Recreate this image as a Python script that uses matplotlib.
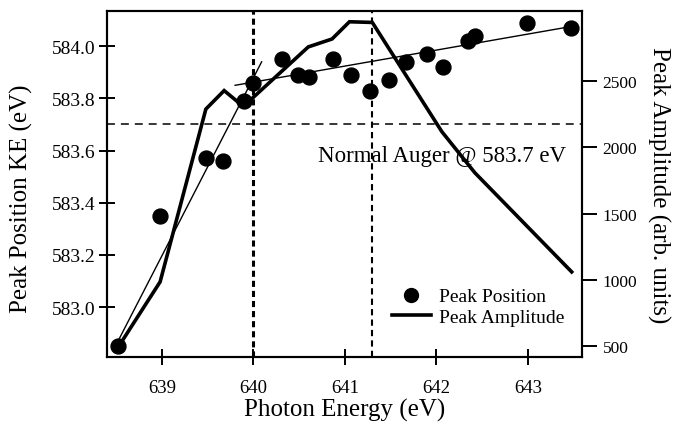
import matplotlib
matplotlib.use("Agg")
import matplotlib.pyplot as plt
from matplotlib.lines import Line2D

plt.rcParams['font.family'] = ['Liberation Serif', 'DejaVu Serif']

# peak position (left axis), dots
energy_pos = [638.52, 638.98, 639.48, 639.67, 639.90, 640.00, 640.31, 640.49, 640.61, 640.87,
              641.07, 641.28, 641.48, 641.67, 641.90, 642.07, 642.35, 642.42, 642.99, 643.47]
peak_pos = [582.85, 583.35, 583.57, 583.56, 583.79, 583.86, 583.95, 583.89, 583.88, 583.95,
            583.89, 583.83, 583.87, 583.94, 583.97, 583.92, 584.02, 584.04, 584.09, 584.07]

# peak amplitude (right axis), thick line
energy_amp = [638.52, 638.98, 639.48, 639.68, 639.89, 640.60, 640.86, 641.05, 641.30, 642.06, 642.42, 643.48]
amp = [490, 985, 2290, 2430, 2310, 2760, 2820, 2950, 2945, 2120, 1810, 1060]

# the two thin linear fits
fit1_x = [638.52, 640.09]
fit1_y = [582.87, 583.94]
fit2_x = [639.80, 643.47]
fit2_y = [583.85, 584.075]

normal_auger = 583.7
mark_energies = [640.0, 641.3]

x_ticks = [639, 640, 641, 642, 643]
left_ticks = [583.0, 583.2, 583.4, 583.6, 583.8, 584.0]
right_ticks = [500, 1000, 1500, 2000, 2500]

fig = plt.figure(figsize=(6.82, 4.35), dpi=100)
ax = fig.add_axes([0.157, 0.177, 0.696, 0.795])
ax2 = ax.twinx()

ax.set_xlim(638.40, 643.59)
ax.set_ylim(582.809, 584.134)
ax2.set_ylim(417, 3030)

# reference lines
ax.axhline(normal_auger, color="black", lw=1.1, ls=(0, (5.2, 3.9)))
ax.axvline(mark_energies[0], color="black", lw=2.2, ls=(0, (2.0, 1.3)))
ax.axvline(mark_energies[1], color="black", lw=1.5, ls=(0, (3.0, 2.0)))

ax.plot(fit1_x, fit1_y, color="black", lw=1.0)
ax.plot(fit2_x, fit2_y, color="black", lw=1.0)
ax.scatter(energy_pos, peak_pos, s=115, color="black", zorder=3)

ax2.plot(energy_amp, amp, color="black", lw=2.6, solid_joinstyle="miter")

ax.text(643.42, 583.58, "Normal Auger @ 583.7 eV", fontsize=16.5, ha="right", va="center")

ax.set_xticks(x_ticks)
ax.set_xticklabels([str(t) for t in x_ticks])
ax.set_yticks(left_ticks)
ax.set_yticklabels(["%.1f" % t for t in left_ticks])
ax2.set_yticks(right_ticks)

ax.tick_params(axis="x", direction="inout", length=11, width=1.4, labelsize=13.5, pad=10)
ax.tick_params(axis="y", direction="inout", length=11, width=1.4, labelsize=14, pad=3)
ax2.tick_params(axis="y", direction="out", length=11, width=1.4, labelsize=12.5, pad=4)

for a in (ax, ax2):
    for s in a.spines.values():
        s.set_linewidth(1.5)

ax.set_xlabel("Photon Energy (eV)", fontsize=18, labelpad=2)
ax.set_ylabel("Peak Position KE (eV)", fontsize=18)
ax.yaxis.set_label_coords(-0.156, 0.46)
ax2.set_ylabel("Peak Amplitude (arb. units)", fontsize=18, rotation=270, labelpad=24)

handles = [Line2D([], [], marker="o", ls="none", color="black", markersize=10),
           Line2D([], [], color="black", lw=2.6)]
ax2.legend(handles, ["Peak Position", "Peak Amplitude"], loc="center left",
           bbox_to_anchor=(0.60, 0.145), frameon=False, fontsize=14,
           handlelength=2.0, handletextpad=0.4, labelspacing=0.15, borderpad=0, borderaxespad=0)

fig.savefig("out.png", dpi=100)
